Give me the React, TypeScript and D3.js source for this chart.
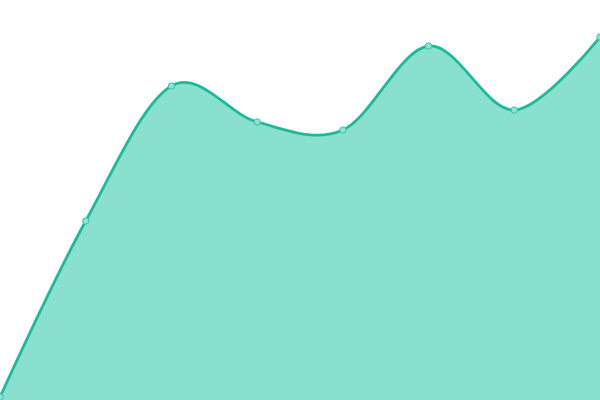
import * as d3 from "d3";

const W = 600;
const H = 400;

// x positions are categories spaced evenly across the width
const categories = ["1", "2", "3", "4", "5", "6", "7", "8"];
const values = [3, 179, 314, 278, 270, 354, 290, 363];

const App = () => {
  const x = d3.scalePoint<string>().domain(categories).range([0, W]);
  const y = d3.scaleLinear().domain([0, 400]).range([H, 0]);

  const pts: [number, number][] = categories.map((c, i) => [x(c) ?? 0, y(values[i])]);

  const area = d3
    .area<[number, number]>()
    .x((d) => d[0])
    .y0(H)
    .y1((d) => d[1])
    .curve(d3.curveCardinal.tension(0));

  const line = d3
    .line<[number, number]>()
    .x((d) => d[0])
    .y((d) => d[1])
    .curve(d3.curveCardinal.tension(0));

  return (
    <svg
      width={W}
      height={H}
      style={{ position: "fixed", left: 0, top: 0, display: "block" }}
    >
      <path d={area(pts) ?? ""} fill="#89e0cf" />
      <path d={line(pts) ?? ""} fill="none" stroke="#1fb999" strokeWidth={2.8} />
      {pts.map((p, i) => (
        <circle key={i} cx={p[0]} cy={p[1]} r={3.2} fill="#8fe2d1" stroke="#3cc4a8" strokeWidth={1} />
      ))}
    </svg>
  );
};

export default App;
